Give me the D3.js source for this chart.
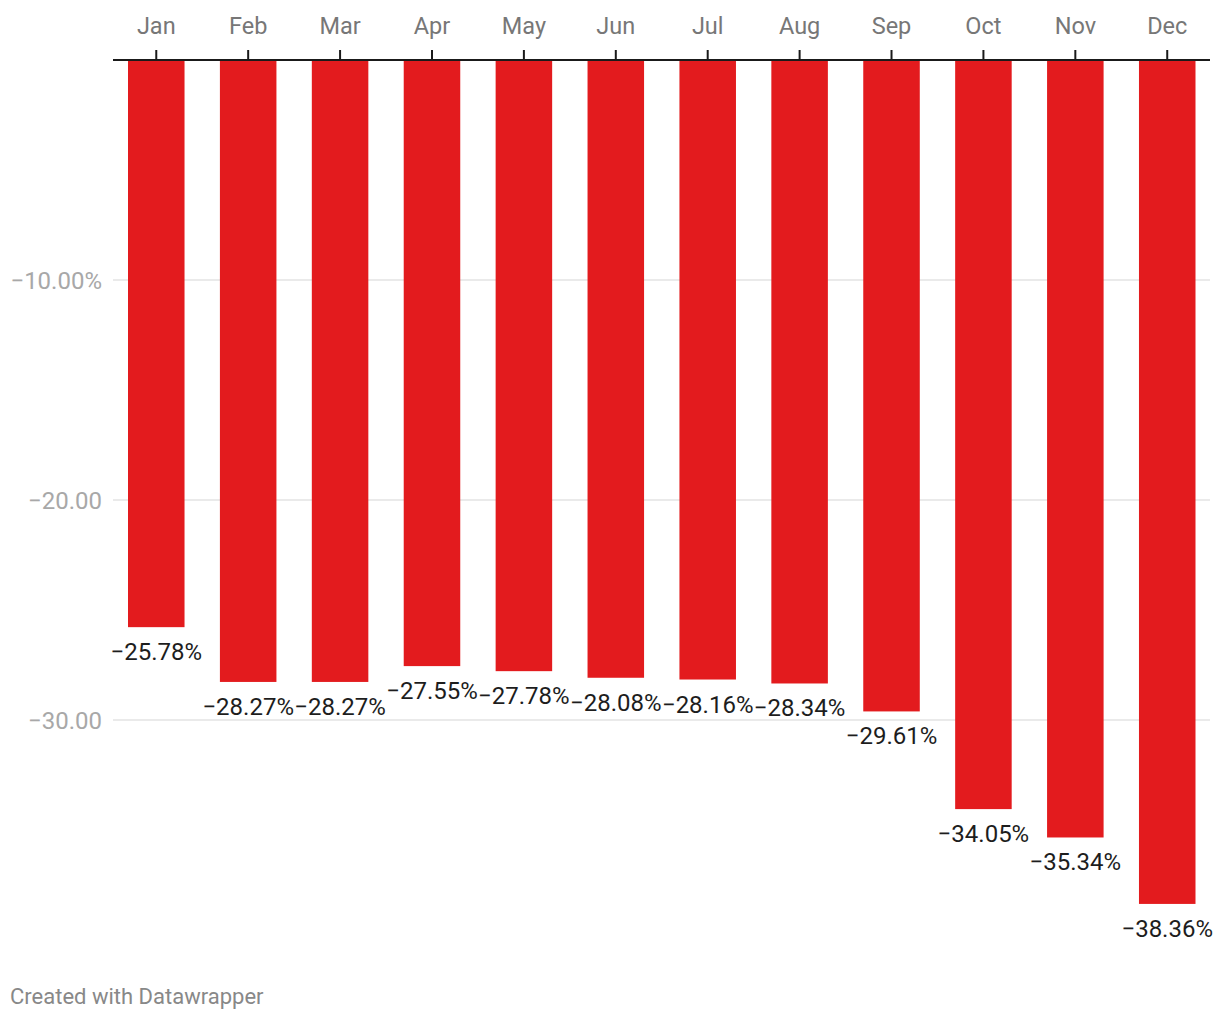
<!DOCTYPE html>
<html><head><meta charset="utf-8">
<script src="https://cdn.jsdelivr.net/npm/d3@7"></script>
<style>
body{margin:0;background:#fff;font-family:Roboto,"Noto Sans",sans-serif;}
</style></head><body>
<svg id="c" width="1220" height="1020"></svg>
<script>
const months = ["Jan","Feb","Mar","Apr","May","Jun","Jul","Aug","Sep","Oct","Nov","Dec"];
const values = [-25.78,-28.27,-28.27,-27.55,-27.78,-28.08,-28.16,-28.34,-29.61,-34.05,-35.34,-38.36];
const yTicks = [-10,-20,-30];
const yTickLabels = ["\u221210.00%","\u221220.00","\u221230.00"];

const svg = d3.select("#c");
const x = d3.scaleBand().domain(months).range([115,1208.5]).paddingInner(0.385).paddingOuter(0.1415);
const y = d3.scaleLinear().domain([0,-10]).range([60,280]);

// gridlines
const g = svg.append("g");
g.selectAll("line.grid").data(yTicks).join("line")
  .attr("x1",113).attr("x2",1210)
  .attr("y1",d=>y(d)).attr("y2",d=>y(d))
  .attr("stroke","#e3e3e3").attr("stroke-width",1.5);
g.selectAll("text.yl").data(yTicks).join("text")
  .attr("x",102).attr("y",d=>y(d)+8.5)
  .attr("text-anchor","end").attr("font-size",24).attr("fill","#a8a8a8")
  .text((d,i)=>yTickLabels[i]);

// bars
svg.append("g").selectAll("rect").data(values).join("rect")
  .attr("x",(d,i)=>x(months[i])).attr("width",x.bandwidth())
  .attr("y",y(0)).attr("height",d=>y(d)-y(0))
  .attr("fill","#e31b1e");

// value labels
svg.append("g").selectAll("text").data(values).join("text")
  .attr("x",(d,i)=>x(months[i])+x.bandwidth()/2)
  .attr("y",d=>y(d)+33)
  .attr("text-anchor","middle").attr("font-size",24).attr("fill","#1d1d1d")
  .text(d=>"\u2212"+Math.abs(d).toFixed(2)+"%");

// top axis
const ax = svg.append("g").attr("transform","translate(0,60)")
  .call(d3.axisTop(x).tickSize(10).tickPadding(16));
ax.select(".domain").remove();
ax.selectAll(".tick line").attr("stroke","#1a1a1a").attr("stroke-width",2);
ax.selectAll(".tick text").attr("font-size",23.5).attr("fill","#777").attr("font-family","Roboto,sans-serif");
svg.append("line").attr("x1",113).attr("x2",1210).attr("y1",60).attr("y2",60)
  .attr("stroke","#1a1a1a").attr("stroke-width",2);

svg.append("text").attr("x",10).attr("y",1004).attr("font-size",22).attr("fill","#888")
  .text("Created with Datawrapper");
</script></body></html>
